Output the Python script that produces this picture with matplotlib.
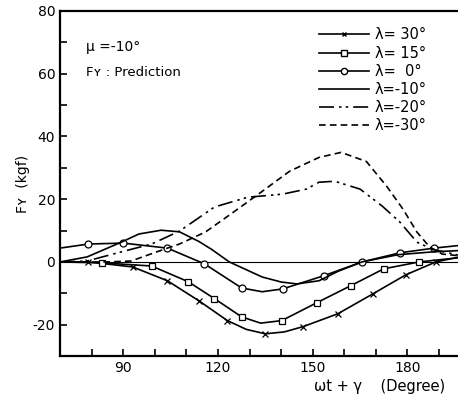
import matplotlib.pyplot as plt
from matplotlib.lines import Line2D

# (degrees, kgf)
lam30_x = [70, 79, 93, 104, 114, 123, 129, 135, 141, 147, 158, 169, 179.5, 189, 196]
lam30_y = [0, 0, -1.6, -6, -12.4, -18.7, -21.5, -22.9, -22.3, -20.6, -16.5, -10.2, -4.1, 0, 1.5]
lam30_marks = [1, 2, 3, 4, 5, 7, 9, 10, 11, 12, 13]

lam15_x = [70, 83.3, 99, 110.6, 118.9, 127.5, 133.5, 140.2, 151.3, 162, 172.5, 183.7, 196]
lam15_y = [0, -0.3, -1.3, -6.3, -11.7, -17.5, -19.5, -18.7, -13, -7.6, -2.2, 0, 1.3]
lam15_marks = [1, 2, 3, 4, 5, 7, 8, 9, 10, 11]

lam0_x = [70, 79, 90, 104, 115.7, 127.5, 134, 140.5, 153.5, 165.6, 177.6, 188.4, 196]
lam0_y = [4.4, 5.7, 6, 4.4, -0.6, -8.3, -9.5, -8.6, -4.4, 0, 2.9, 4.4, 5.2]
lam0_marks = [1, 2, 3, 4, 5, 7, 8, 9, 10, 11]

lamm10_x = [70, 78.6, 89.4, 95, 102, 107.8, 114, 118, 123.6, 134, 140, 145, 152, 158, 165.6, 177, 188, 196]
lamm10_y = [0, 1.6, 6.3, 8.9, 10.1, 9.6, 6.5, 4, 0, -4.8, -6.4, -7, -6, -3, 0, 2.3, 3.2, 3.6]

lamm20_x = [70, 78.6, 89.4, 99, 107.8, 118.9, 129.4, 140.5, 148, 152, 157, 165, 172, 177.6, 183, 188, 196]
lamm20_y = [0, 0.3, 3.2, 5.7, 9.8, 17.5, 20.6, 21.6, 23.2, 25.4, 25.7, 23.2, 17.8, 12.7, 6.3, 4, 2.2]

lamm30_x = [70, 85, 92.5, 104, 107.8, 116, 124, 132, 142.7, 152, 159, 167, 173.5, 178.6, 183, 187, 191, 196]
lamm30_y = [0, 0, 0.3, 4.4, 5.7, 9.5, 15.2, 21, 28.9, 33.3, 34.9, 32, 24, 16.8, 9.5, 4.8, 2.5, 2]

labels = ["λ= 30°", "λ= 15°", "λ=  0°", "λ=-10°", "λ=-20°", "λ=-30°"]

dashdotdot = (0, (9, 3, 1.5, 2.5, 1.5, 3))
dashed = (0, (4, 2.5))

fig = plt.figure(figsize=(4.58, 4.01), dpi=100)
ax = fig.add_axes([0.131, 0.112, 0.869, 0.861])

ax.axhline(0, color="black", lw=0.8)
ax.plot(lam30_x, lam30_y, color="black", lw=1.2, marker="x", ms=4, mew=0.9,
        markevery=lam30_marks)
ax.plot(lam15_x, lam15_y, color="black", lw=1.2, marker="s", ms=4.5, mfc="white",
        mew=0.9, markevery=lam15_marks)
ax.plot(lam0_x, lam0_y, color="black", lw=1.2, marker="o", ms=5, mfc="white",
        mew=0.9, markevery=lam0_marks)
ax.plot(lamm10_x, lamm10_y, color="black", lw=1.2)
ax.plot(lamm20_x, lamm20_y, color="black", lw=1.2, linestyle=dashdotdot)
ax.plot(lamm30_x, lamm30_y, color="black", lw=1.2, linestyle=dashed)

ax.set_xlim(70, 196)
ax.set_ylim(-30, 80)
xt = list(range(80, 196, 10))
ax.set_xticks(xt)
ax.set_xticklabels([str(v) if v in (90, 120, 150, 180) else "" for v in xt])
yt = list(range(-30, 81, 10))
ax.set_yticks(yt)
ax.set_yticklabels([str(v) if v % 20 == 0 else "" for v in yt])
ax.tick_params(direction="in", length=5, width=1.2, labelsize=10)
ax.spines["right"].set_visible(False)
for s in ["left", "bottom", "top"]:
    ax.spines[s].set_linewidth(1.6)

handles = [
    Line2D([0, 0.5, 1], [0, 0, 0], color="black", lw=1.2, marker="x", ms=3.5, markevery=[1]),
    Line2D([0, 0.5, 1], [0, 0, 0], color="black", lw=1.2, marker="s", ms=4, mfc="white", markevery=[1]),
    Line2D([0, 0.5, 1], [0, 0, 0], color="black", lw=1.2, marker="o", ms=4.5, mfc="white", markevery=[1]),
    Line2D([], [], color="black", lw=1.2),
    Line2D([], [], color="black", lw=1.2, linestyle=dashdotdot),
    Line2D([], [], color="black", lw=1.2, linestyle=dashed),
]
ax.legend(handles, labels, loc="upper right", bbox_to_anchor=(0.955, 0.99),
          frameon=False, fontsize=10.5, handlelength=3.4, labelspacing=0.22,
          handletextpad=0.4)

ax.text(0.065, 0.885, "μ =-10°", transform=ax.transAxes, fontsize=10)
ax.text(0.065, 0.81, "Fʏ : Prediction", transform=ax.transAxes, fontsize=9.5)

ax.set_ylabel("Fʏ  (kgf)", fontsize=10, labelpad=2)
fig.text(0.685, 0.025, "ωt + γ    (Degree)", fontsize=10.5)

fig.savefig("out.png", dpi=100)
